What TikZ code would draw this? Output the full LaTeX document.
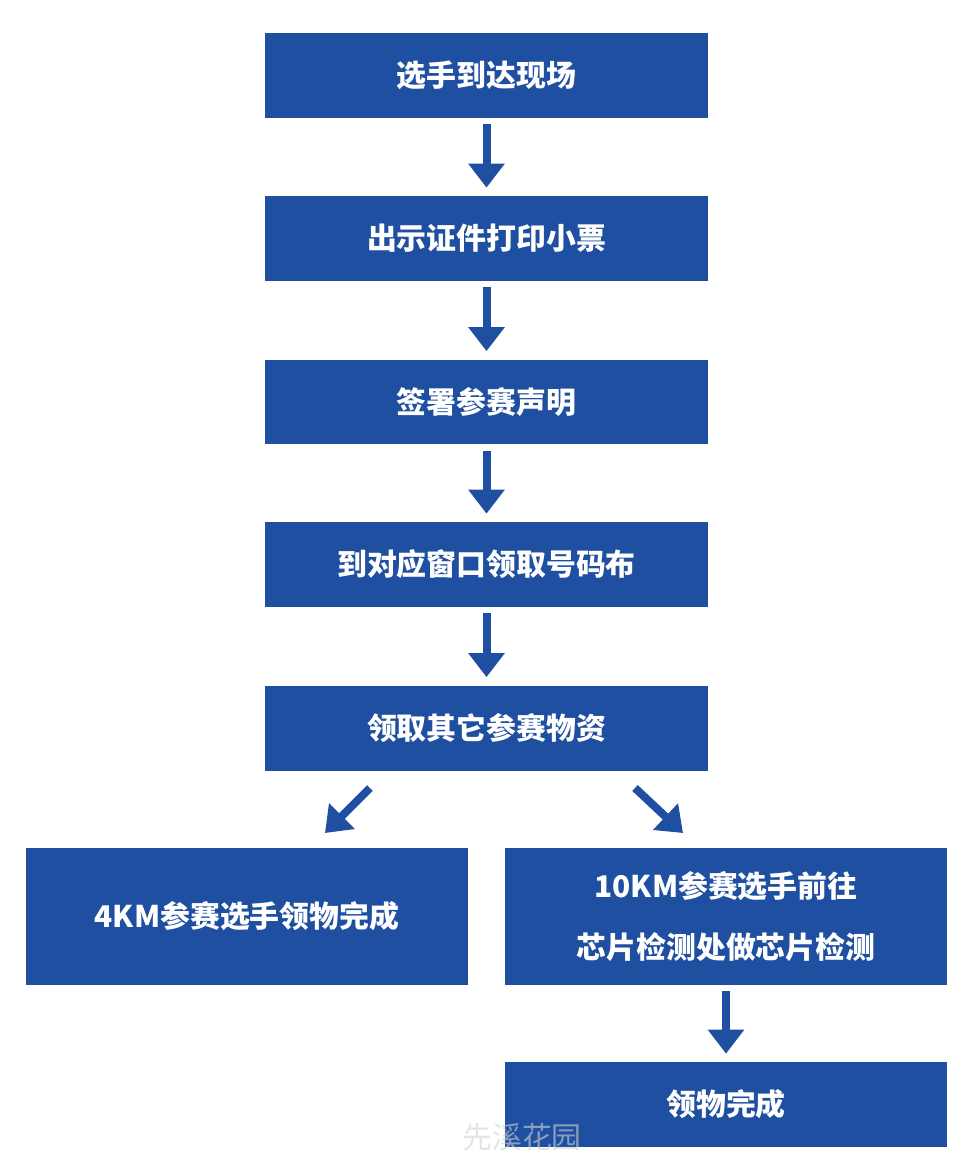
\documentclass[tikz,border=0pt]{standalone}
\usepackage{fontspec}
\newfontfamily\cjk{Noto Sans CJK SC}
\usepackage{tikz}
\usetikzlibrary{arrows.meta}

\definecolor{boxblue}{HTML}{1F4FA0}

\tikzset{
  stepbox/.style={fill=boxblue, text=white, minimum width=8.86cm, minimum height=1.7cm,
    inner sep=0pt, font=\cjk\bfseries\fontsize{17}{35}\selectfont, align=center},
  tallbox/.style={stepbox, minimum height=2.74cm},
  arr/.style={boxblue, line width=0.16cm, -{Triangle[width=0.7cm,length=0.48cm]}},
}

\begin{document}
\begin{tikzpicture}[x=0.02cm, y=-0.02cm]

\useasboundingbox (0,0) rectangle (977,1173);

% main column
\node[stepbox] (arrive) at (486.5,75.5) {选手到达现场};
\node[stepbox] (ticket) at (486.5,238.5) {出示证件打印小票};
\node[stepbox] (sign) at (486.5,402) {签署参赛声明};
\node[stepbox] (bib) at (486.5,564.5) {到对应窗口领取号码布};
\node[stepbox] (kit) at (486.5,728) {领取其它参赛物资};

% two branches
\node[tallbox] (short) at (247,916.5) {4KM参赛选手领物完成};
\node[tallbox] (long) at (726,916.5) {10KM参赛选手前往\\芯片检测处做芯片检测};
\node[stepbox] (done) at (726,1104.5) {领物完成};

\draw[arr, shorten <=0.12cm, shorten >=0.16cm] (arrive) -- (ticket);
\draw[arr, shorten <=0.12cm, shorten >=0.16cm] (ticket) -- (sign);
\draw[arr, shorten <=0.12cm, shorten >=0.16cm] (sign) -- (bib);
\draw[arr, shorten <=0.12cm, shorten >=0.16cm] (bib) -- (kit);
\draw[arr, shorten <=0.12cm, shorten >=0.16cm] (long) -- (done);

\coordinate (kitl) at (370,788);
\coordinate (shortt) at (325,833);
\coordinate (kitr) at (635,788);
\coordinate (longt) at (683,833);
\draw[arr] (kitl) -- (shortt);
\draw[arr] (kitr) -- (longt);

% watermark
\node[text=gray!35, opacity=0.6, font=\cjk\fontsize{17}{17}\selectfont] (mark) at (522,1137) {先溪花园};

\end{tikzpicture}
\end{document}
